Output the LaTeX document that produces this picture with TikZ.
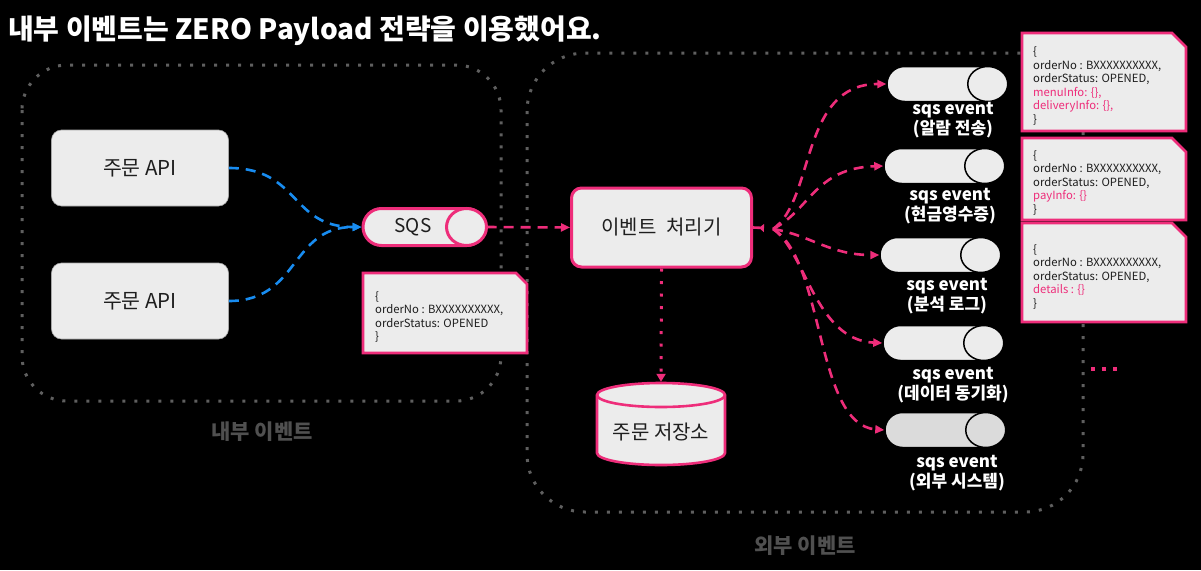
\documentclass[tikz,border=0pt]{standalone}
\usepackage{fontspec}
\setmainfont{Noto Sans CJK KR}
\usetikzlibrary{arrows.meta,shapes.misc}
\definecolor{pk}{RGB}{238,45,122}
\definecolor{bl}{RGB}{24,140,240}
\definecolor{bx}{RGB}{236,236,236}
\definecolor{dg}{RGB}{95,95,95}
\definecolor{lbl}{RGB}{80,80,80}
\definecolor{ink}{RGB}{30,30,30}
\begin{document}
\begin{tikzpicture}[x=1pt,y=-1pt,
  region/.style={draw=dg, line width=3pt, dash pattern=on 3pt off 9pt},
  apibox/.style={rectangle, rounded corners=10pt, fill=bx, draw=gray!70, line width=0.6pt,
    minimum width=177pt, minimum height=76pt, font=\fontsize{20.5}{24}\selectfont, text=ink},
  procbox/.style={rectangle, rounded corners=10pt, fill=bx, draw=pk, line width=3pt,
    minimum width=180pt, minimum height=79pt, font=\fontsize{20}{24}\selectfont, text=ink},
  pillpk/.style={rounded rectangle, fill=bx, draw=pk, line width=3pt,
    minimum width=122pt, minimum height=37pt, inner sep=0pt, font=\fontsize{19}{22}\selectfont, text=ink},
  pillev/.style={rounded rectangle, fill=bx, draw=black, line width=1.5pt,
    minimum width=120pt, minimum height=35pt, inner sep=0pt},
  evlabel/.style={align=center, text=white, font=\bfseries\fontsize{17}{20}\selectfont, inner sep=0pt},
  note/.style={draw=pk, line width=2.6pt, fill=bx},
  notetext/.style={anchor=west, align=left, font=\fontsize{11.3}{13.5}\selectfont, text=ink, inner sep=0pt},
  pdash/.style={draw=pk, line width=2.6pt, dash pattern=on 10pt off 7pt, -{Triangle[length=9pt,width=8pt]}},
  bdash/.style={draw=bl, line width=2.6pt, dash pattern=on 10pt off 7pt, -{Triangle[length=9pt,width=8pt]}},
  pdot/.style={draw=pk, line width=3pt, dash pattern=on 3pt off 9.5pt, -{Triangle[length=8pt,width=9pt]}},
  regionlabel/.style={text=lbl, font=\bfseries\fontsize{21}{24}\selectfont, inner sep=0pt}
]
\useasboundingbox (0,0) rectangle (1201,570);
\fill[black] (0,0) rectangle (1201,570);

% title
\node[anchor=base west, inner sep=0pt, text=white, font=\bfseries\fontsize{28}{32}\selectfont] (title) at (8,39)
  {내부 이벤트는 ZERO Payload 전략을 이용했어요.};

% regions
\draw[region, rounded corners=45pt] (22,65) rectangle (501,401);
\draw[region, rounded corners=58pt] (527,53) rectangle (1083,512);
\node[regionlabel] (inlabel) at (262,432) {내부 이벤트};
\node[regionlabel] (exlabel) at (805,546) {외부 이벤트};

% internal nodes
\node[apibox] (api1) at (140,168) {주문 API};
\node[apibox] (api2) at (140,301) {주문 API};
\node[pillpk] (sqs) at (424,227) {SQS\hspace*{22pt}};
\draw[pk, line width=3pt, fill=bx] ([xshift=-20pt]sqs.east) ellipse [x radius=20pt, y radius=18.5pt];

% sqs note
\draw[note] (363,273) -- (516,273) -- (527,284) -- (527,353) -- (363,353) -- cycle;
\node[notetext] (sqsnote) at (375,317) {\{\\orderNo : BXXXXXXXXXX,\\orderStatus: OPENED\\\}};

% processor
\node[procbox] (proc) at (661.5,227.5) {이벤트\hspace{0.5em}처리기};

% database
\node[minimum width=128pt, minimum height=84pt, inner sep=0pt] (db) at (661,424) {};
\draw[pk, line width=2.6pt, fill=bx] (597,395) -- (597,453)
  arc[start angle=180, end angle=360, x radius=64pt, y radius=12pt] -- (725,395)
  arc[start angle=0, end angle=180, x radius=64pt, y radius=12pt] -- cycle;
\draw[pk, line width=2.6pt] (597,395) arc[start angle=180, end angle=360, x radius=64pt, y radius=12pt];
\node[font=\fontsize{20}{24}\selectfont, text=ink, inner sep=0pt] (dbtext) at (661,432) {주문 저장소};

% event pills
\node[pillev] (e1) at (947,84) {};
\node[pillev] (e2) at (944,166) {};
\node[pillev] (e3) at (940,255) {};
\node[pillev] (e4) at (943,343) {};
\node[pillev, fill=black!14] (e5) at (945,430) {};
\foreach \n/\f in {e1/bx,e2/bx,e3/bx,e4/bx,e5/black!14}{
  \draw[black, line width=1.5pt, fill=\f] ([xshift=-20pt]\n.east) ellipse [x radius=20pt, y radius=17.5pt];
}
\node[evlabel] (l1) at (953,120) {sqs event\\(알람 전송)};
\node[evlabel] (l2) at (950,206) {sqs event\\(현금영수증)};
\node[evlabel] (l3) at (947,296) {sqs event\\(분석 로그)};
\node[evlabel] (l4) at (953,385) {sqs event\\(데이터 동기화)};
\node[evlabel] (l5) at (957,473) {sqs event\\(외부 시스템)};

% right notes
\draw[note] (1022,33) -- (1172,33) -- (1186,47) -- (1186,131) -- (1022,131) -- cycle;
\node[notetext] (na) at (1033,86) {\{\\orderNo : BXXXXXXXXXX,\\orderStatus: OPENED,\\\textcolor{pk}{menuInfo: \{\},}\\\textcolor{pk}{deliveryInfo: \{\},}\\\}};
\draw[note] (1022,138) -- (1172,138) -- (1186,152) -- (1186,220) -- (1022,220) -- cycle;
\node[notetext] (nb) at (1033,182.5) {\{\\orderNo : BXXXXXXXXXX,\\orderStatus: OPENED,\\\textcolor{pk}{payInfo: \{\}}\\\}};
\draw[note] (1022,223) -- (1172,223) -- (1186,237) -- (1186,322) -- (1022,322) -- cycle;
\node[notetext] (nc) at (1033,276.5) {\{\\orderNo : BXXXXXXXXXX,\\orderStatus: OPENED,\\\textcolor{pk}{details : \{\}}\\\}};

% more dots
\draw[pk, line width=4pt, dash pattern=on 4pt off 7pt] (1091,369) -- (1120,369);

% connectors
\draw[bdash] (api1.east) .. controls (300,168) and (290,227) .. (sqs.west);
\draw[bdash] (api2.east) .. controls (300,301) and (290,227) .. (sqs.west);
\draw[pdash] (sqs.east) -- (proc.west);
\draw[pdot] (proc.south) -- (db.north);
\coordinate (stub) at (764,228);
\coordinate (fan) at (773,229);
\draw[pk, line width=2.6pt, -{Triangle[length=5pt,width=8pt,reversed]}] (proc.east) -- (stub);
\draw[pdash] (fan) .. controls (815,200) and (800,84) .. (e1.west);
\draw[pdash] (fan) .. controls (810,210) and (815,168) .. (e2.west);
\draw[pdash] (fan) .. controls (810,235) and (830,255) .. (e3.west);
\draw[pdash] (fan) .. controls (805,250) and (815,340) .. (e4.west);
\draw[pdash] (fan) .. controls (825,260) and (815,425) .. (e5.west);
\end{tikzpicture}
\end{document}
